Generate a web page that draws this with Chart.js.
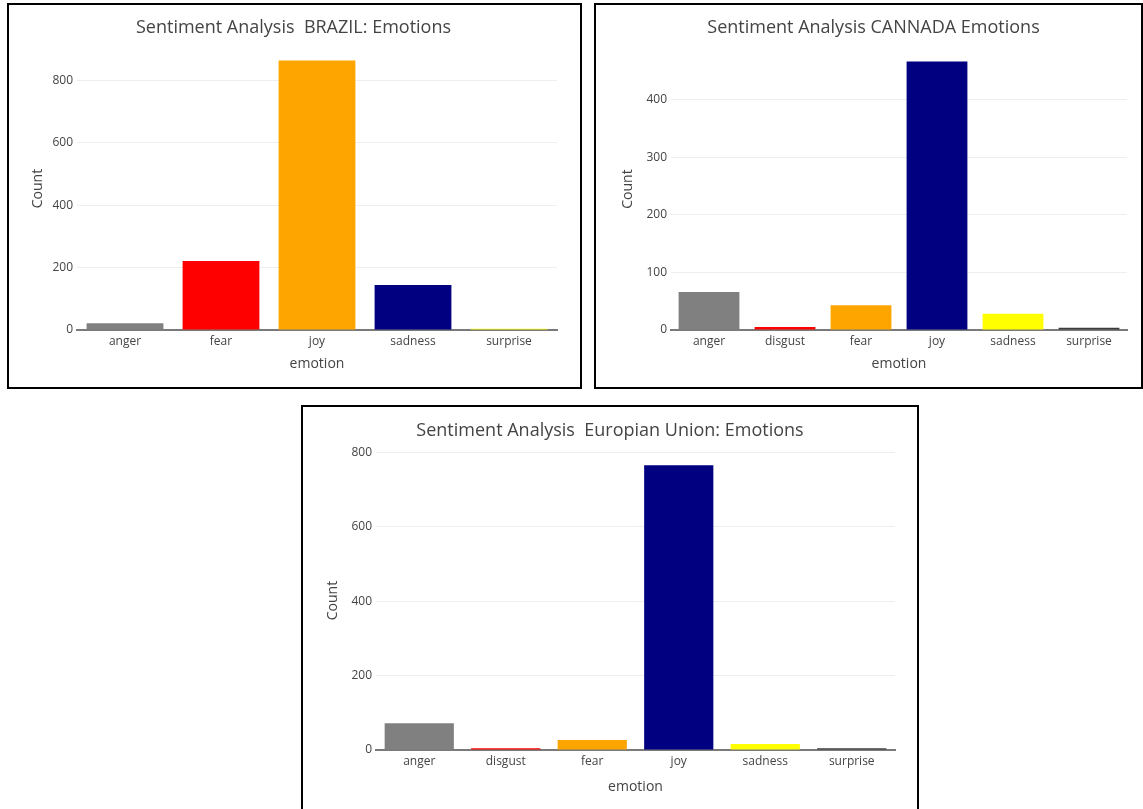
<!DOCTYPE html>
<html>
<head>
<meta charset="utf-8">
<script src="https://cdn.jsdelivr.net/npm/chart.js@4.4.1/dist/chart.umd.min.js"></script>
<style>
  html, body { margin: 0; padding: 0; background: #fff; }
  body { width: 1143px; height: 809px; position: relative; overflow: hidden; }
  .frame { position: absolute; border: 2px solid #000; box-sizing: border-box; }
  .chart { position: absolute; }
</style>
</head>
<body>
<div class="frame" style="left:7px;top:3px;width:575px;height:386px"></div>
<div class="frame" style="left:594px;top:3px;width:549px;height:386px"></div>
<div class="frame" style="left:301px;top:405px;width:618px;height:420px"></div>

<div class="chart" style="left:9px;top:5px;width:570px;height:381px"><canvas id="brazil"></canvas></div>
<div class="chart" style="left:596px;top:5px;width:545px;height:381px"><canvas id="canada"></canvas></div>
<div class="chart" style="left:303px;top:407px;width:613px;height:402px"><canvas id="eu"></canvas></div>

<script>
// data
const brazilLabels = ["anger", "fear", "joy", "sadness", "surprise"]
const brazilCounts = [22, 221, 864, 144, 4]
const brazilColors = ["gray", "red", "orange", "navy", "yellow"]

const canadaLabels = ["anger", "disgust", "fear", "joy", "sadness", "surprise"]
const canadaCounts = [66, 5, 43, 466, 28, 4]
const canadaColors = ["gray", "red", "orange", "navy", "yellow", "#3d3d3d"]

const euLabels = ["anger", "disgust", "fear", "joy", "sadness", "surprise"]
const euCounts = [72, 5, 27, 765, 16, 5]
const euColors = ["gray", "red", "orange", "navy", "yellow", "#3d3d3d"]

const FONT = "'Open Sans', verdana, arial, sans-serif"
const TEXT = "#444"

const createBarChart = (id, title, labels, values, colors, step, geo) => {
  const ctx = document.getElementById(id).getContext("2d")
  // plotly-like autorange: 5% headroom above the tallest bar
  const yMax = Math.max(...values) * 1.05

  return new Chart(ctx, {
    type: "bar",
    data: {
      labels: labels,
      datasets: [
        {
          label: "Count",
          data: values,
          backgroundColor: colors,
          borderWidth: 0,
          categoryPercentage: 1,
          barPercentage: 0.8,
        },
      ],
    },
    options: {
      responsive: true,
      maintainAspectRatio: false,
      animation: false,
      layout: {
        padding: { left: geo.left, right: geo.right, top: 0, bottom: geo.bottom },
      },
      plugins: {
        legend: { display: false },
        tooltip: { enabled: false },
        title: {
          display: true,
          text: title,
          color: TEXT,
          font: { family: FONT, size: 18, weight: "normal" },
          padding: { top: geo.titleTop, bottom: geo.titleBottom },
        },
      },
      scales: {
        x: {
          grid: { display: false, drawTicks: false },
          border: { display: true, color: "#7a7a7a", width: 2 },
          ticks: { color: TEXT, padding: 4, font: { family: FONT, size: 12 } },
          title: {
            display: true,
            text: "emotion",
            color: TEXT,
            font: { family: FONT, size: 14 },
            padding: { top: 0, bottom: 2 },
          },
          afterFit: (scale) => {
            scale.height = geo.xHeight
          },
        },
        y: {
          min: 0,
          max: yMax,
          border: { display: false },
          grid: {
            drawTicks: false,
            color: (c) => (c.tick && c.tick.value === 0 ? "rgba(0,0,0,0)" : "#eeeeee"),
          },
          ticks: {
            color: TEXT,
            padding: 4,
            font: { family: FONT, size: 12 },
          },
          // keep round steps only, like plotly does
          afterBuildTicks: (scale) => {
            const ticks = []
            for (let v = 0; v <= scale.max; v += step) ticks.push({ value: v })
            scale.ticks = ticks
          },
          title: {
            display: true,
            text: "Count",
            color: TEXT,
            font: { family: FONT, size: 14 },
            padding: { top: 0, bottom: 0 },
          },
          afterFit: (scale) => {
            scale.width = geo.yWidth
          },
        },
      },
    },
  })
}

createBarChart("brazil", "Sentiment Analysis  BRAZIL: Emotions", brazilLabels, brazilCounts, brazilColors, 200, {
  left: 21, right: 22, bottom: 11.6, yWidth: 47, xHeight: 44.4, titleTop: 12.2, titleBottom: 8.2,
})

createBarChart("canada", "Sentiment Analysis CANNADA Emotions", canadaLabels, canadaCounts, canadaColors, 100, {
  left: 24, right: 14, bottom: 11.6, yWidth: 51, xHeight: 44.4, titleTop: 12.2, titleBottom: 9.2,
})

createBarChart("eu", "Sentiment Analysis  Europian Union: Emotions", euLabels, euCounts, euColors, 200, {
  left: 22, right: 21, bottom: 11.6, yWidth: 51, xHeight: 47.4, titleTop: 13.2, titleBottom: 9.2,
})
</script>
</body>
</html>
